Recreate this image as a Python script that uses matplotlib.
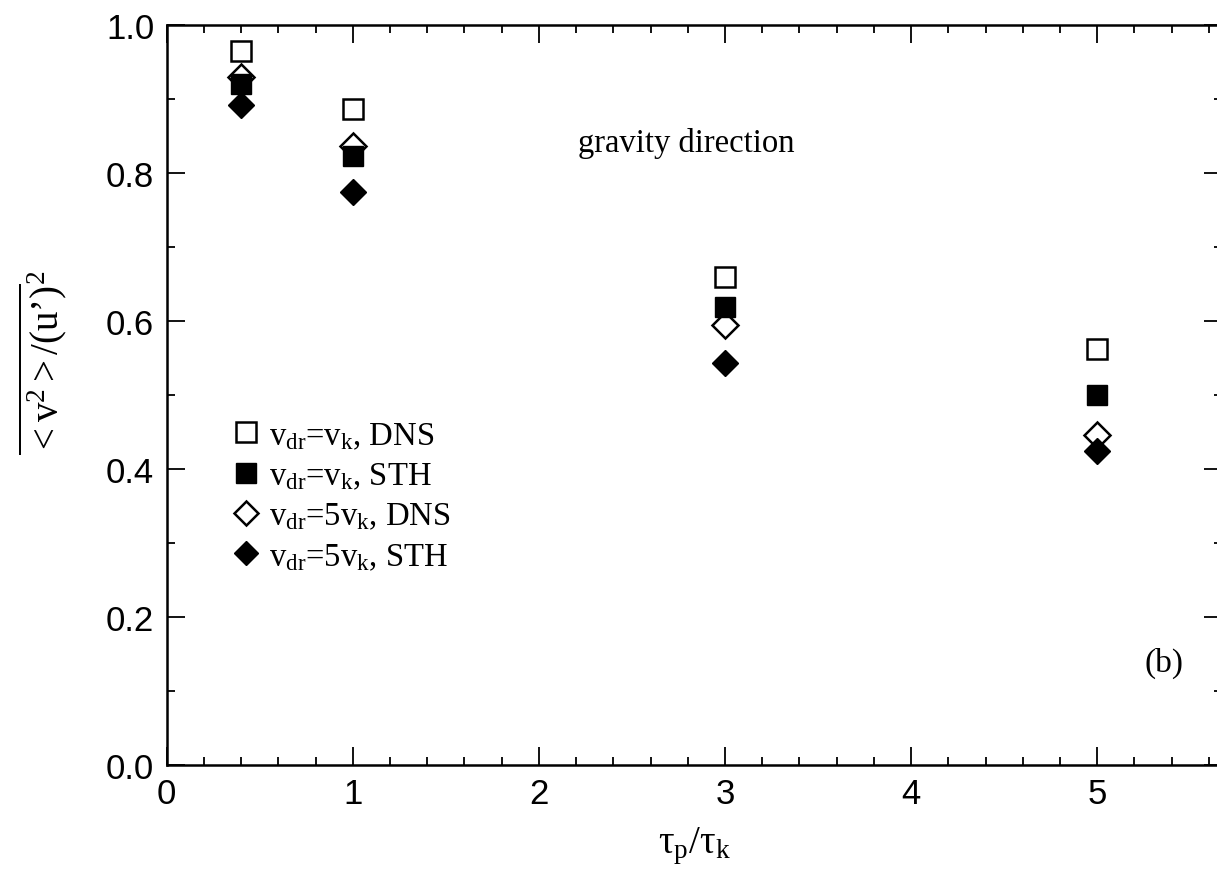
import numpy as np
import matplotlib
matplotlib.use('Agg')
import matplotlib.pyplot as plt
from matplotlib.ticker import MultipleLocator

plt.rcParams['mathtext.fontset'] = 'custom'
plt.rcParams['mathtext.rm'] = 'Liberation Serif'
plt.rcParams['mathtext.it'] = 'Liberation Serif:italic'

# data
tau = [0.4, 1.0, 3.0, 5.0]
dns_1 = [0.965, 0.886, 0.659, 0.562]   # v_dr = v_k, DNS
sth_1 = [0.920, 0.823, 0.619, 0.500]   # v_dr = v_k, STH
dns_5 = [0.930, 0.836, 0.594, 0.446]   # v_dr = 5v_k, DNS
sth_5 = [0.892, 0.774, 0.543, 0.424]   # v_dr = 5v_k, STH

serif = 'Liberation Serif'
sans = 'Liberation Sans'

fig = plt.figure(figsize=(12.17, 8.78), dpi=100)
ax = fig.add_axes([0.137, 0.1276, 0.867, 0.8428])

ax.plot(tau, dns_1, 's', ms=15, mfc='white', mec='black', mew=1.8, zorder=3,
        label=r'v$_{\rm dr}$=v$_{\rm k}$, DNS')
ax.plot(tau, sth_1, 's', ms=15, mfc='black', mec='black', mew=1.0, zorder=4,
        label=r'v$_{\rm dr}$=v$_{\rm k}$, STH')
ax.plot(tau, dns_5, 'D', ms=13, mfc='white', mec='black', mew=1.8, zorder=2,
        label=r'v$_{\rm dr}$=5v$_{\rm k}$, DNS')
ax.plot(tau, sth_5, 'D', ms=13, mfc='black', mec='black', mew=1.0, zorder=5,
        label=r'v$_{\rm dr}$=5v$_{\rm k}$, STH')

ax.set_xlim(0, 5.67)
ax.set_ylim(0, 1.0)
ax.xaxis.set_major_locator(MultipleLocator(1))
ax.xaxis.set_minor_locator(MultipleLocator(0.2))
ax.yaxis.set_major_locator(MultipleLocator(0.2))
ax.yaxis.set_minor_locator(MultipleLocator(0.1))
ax.tick_params(which='both', direction='in', top=True, right=True, width=1.3)
ax.tick_params(which='major', length=13, labelsize=25, pad=9)
ax.tick_params(which='minor', length=6)
ax.yaxis.set_major_formatter(matplotlib.ticker.FormatStrFormatter('%.1f'))
for lab in ax.get_xticklabels() + ax.get_yticklabels():
    lab.set_fontfamily(sans)
for s in ax.spines.values():
    s.set_linewidth(1.8)

ax.set_xlabel(r'τ$_{\rm p}$/τ$_{\rm k}$', fontsize=28, family=serif, labelpad=10)
ax.set_ylabel(r"$\overline{<\mathrm{v}^2>/(\mathrm{u}’)}^{2}$", fontsize=28,
              family=serif)
ax.yaxis.set_label_coords(-0.093, 0.545)

ax.text(2.21, 0.83, 'gravity direction', fontsize=23.5, family=serif)
ax.text(5.36, 0.139, '(b)', fontsize=24, family=serif, ha='center', va='center')

leg = ax.legend(loc='upper left', bbox_to_anchor=(0.066, 0.466), frameon=False,
                prop={'family': serif, 'size': 23.5}, markerscale=0.95,
                handlelength=0.6, handletextpad=0.4, labelspacing=0.3,
                borderpad=0, borderaxespad=0)

fig.savefig('out.png', dpi=100)
